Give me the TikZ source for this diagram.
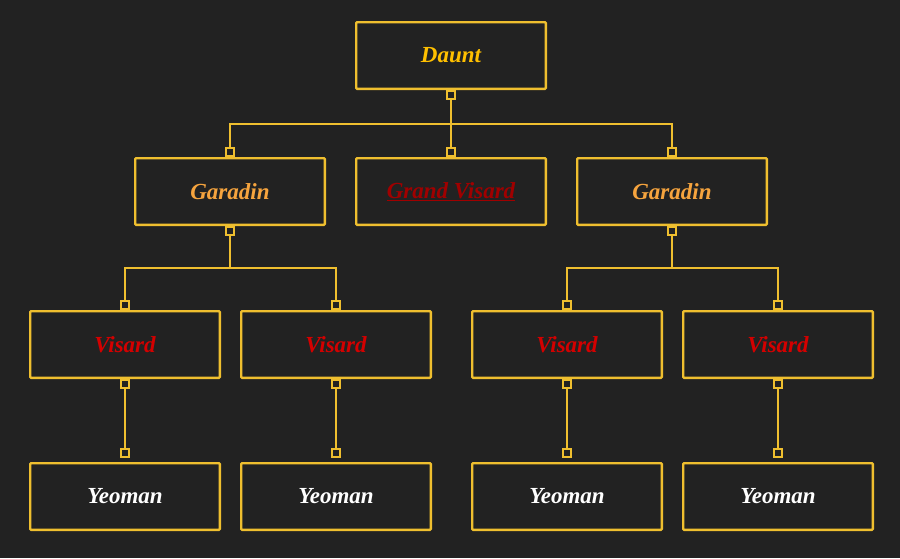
\documentclass[tikz,border=0pt]{standalone}
\usepackage{fontspec}
\setmainfont{Liberation Serif}
\definecolor{bg}{HTML}{222222}
\definecolor{gold}{HTML}{EFBF2F}
\definecolor{dauntc}{HTML}{FFC000}
\definecolor{garc}{HTML}{F6A43E}
\definecolor{gvc}{HTML}{A00000}
\definecolor{visc}{HTML}{D40000}
\begin{document}
\begin{tikzpicture}[x=1pt,y=-1pt,
  box/.style={draw=gold,line width=2.3pt,rounded corners=1pt,minimum width=189.7pt,minimum height=66.7pt,inner sep=0pt,
    font=\fontsize{23}{25}\selectfont\bfseries\itshape},
  sq/.style={draw=gold,fill=bg,line width=2.2pt,minimum size=7.8pt,inner sep=0pt},
  conn/.style={draw=gold,line width=2.3pt}]
\fill[bg] (0,0) rectangle (900,558);
\useasboundingbox (0,0) rectangle (900,558);
% boxes
\node[box,text=dauntc] (daunt) at (451,55.5) {Daunt};
\node[box,text=garc] (garL) at (230,191.5) {Garadin};
\node[box,text=gvc] (gv) at (451,191.5) {\underline{Grand Visard}};
\node[box,text=garc] (garR) at (672,191.5) {Garadin};
\node[box,text=visc] (v1) at (125,344.5) {Visard};
\node[box,text=visc] (v2) at (336,344.5) {Visard};
\node[box,text=visc] (v3) at (567,344.5) {Visard};
\node[box,text=visc] (v4) at (778,344.5) {Visard};
\node[box,text=white] (y1) at (125,496.5) {Yeoman};
\node[box,text=white] (y2) at (336,496.5) {Yeoman};
\node[box,text=white] (y3) at (567,496.5) {Yeoman};
\node[box,text=white] (y4) at (778,496.5) {Yeoman};
% junction coordinates
\coordinate (j1) at (451,124);
\coordinate (j2) at (230,268);
\coordinate (j3) at (672,268);
% square nodes
\node[sq,anchor=north] (sD) at (daunt.south) {};
\node[sq,anchor=south] (sGLt) at (garL.north) {};
\node[sq,anchor=south] (sGVt) at (gv.north) {};
\node[sq,anchor=south] (sGRt) at (garR.north) {};
\node[sq,anchor=north] (sGLb) at (garL.south) {};
\node[sq,anchor=north] (sGRb) at (garR.south) {};
\foreach \i in {1,2,3,4}{
  \node[sq,anchor=south] (sV\i t) at (v\i.north) {};
  \node[sq,anchor=north] (sV\i b) at (v\i.south) {};
  \node[sq,anchor=south,yshift=4pt] (sY\i t) at (y\i.north) {};
}
% connectors
\draw[conn] (sD.south) -- (j1);
\draw[conn] (sGLt.north) |- (j1) -| (sGRt.north);
\draw[conn] (j1) -- (sGVt.north);
\draw[conn] (sGLb.south) -- (j2);
\draw[conn] (sV1t.north) |- (j2) -| (sV2t.north);
\draw[conn] (sGRb.south) -- (j3);
\draw[conn] (sV3t.north) |- (j3) -| (sV4t.north);
\foreach \i in {1,2,3,4}{
  \draw[conn] (sV\i b.south) -- (sY\i t.north);
}
\end{tikzpicture}
\end{document}
